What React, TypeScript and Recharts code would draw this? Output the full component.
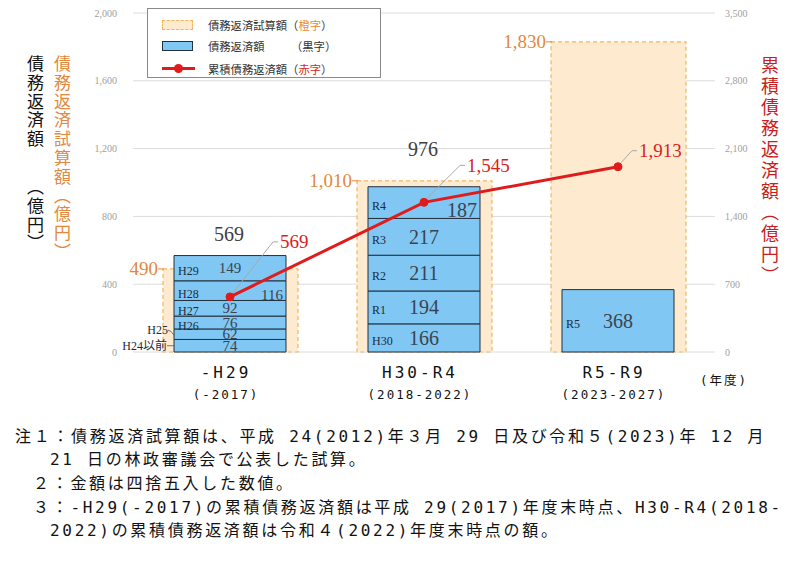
import React from 'react';
import { ComposedChart, Bar, Line, XAxis, YAxis, CartesianGrid, LabelList } from 'recharts';

// ---------- data ----------
const categories = ['-H29', 'H30-R4', 'R5-R9'];
const yearRanges = ['(-2017)', '(2018-2022)', '(2023-2027)'];
const trialAmounts = [490, 1010, 1830];
const seg1 = [74, 166, 368];
const seg2 = [62, 194, null];
const seg3 = [76, 211, null];
const seg4 = [92, 217, null];
const seg5 = [116, 187, null];
const seg6 = [149, null, null];
const segmentNames = [
  ['H24以前', 'H25', 'H26', 'H27', 'H28', 'H29'],
  ['H30', 'R1', 'R2', 'R3', 'R4'],
  ['R5'],
];
const repaymentTotals = [569, 976, null];
const cumulativeRepayment = [569, 1545, 1913];
const leftTicks = [0, 400, 800, 1200, 1600, 2000];
const rightTicks = [0, 700, 1400, 2100, 2800, 3500];

// ---------- styles ----------
const ORANGE = '#E3883C';
const RED = '#D91E1E';
const BLUE = '#80C7F3';
const BLUE_STROKE = '#22313F';
const SERIF = '"Liberation Serif", "DejaVu Serif", "Noto Sans CJK JP", serif';
const CJK = '"Noto Sans CJK JP", sans-serif';
const MONO_CJK = '"DejaVu Sans Mono", "Noto Sans CJK JP", monospace';

const segKeys = ['s1', 's2', 's3', 's4', 's5', 's6'];
const segArrays = [seg1, seg2, seg3, seg4, seg5, seg6];
const valueFontSize = [15, 20, 20];
const totalLabelDy = [-22, -38, 0];
const segStyle: Record<string, any> = {
  '0-0': { nameOutside: true },
  '0-1': { nameOutside: true, diag: true },
  '0-4': { valueAnchor: 'end', valueDy: 4 },
  '1-4': { valueAnchor: 'end', valueDy: 7 },
};
const leaderOffsets = [
  { dx: 43, dy: -55 },
  { dx: 36, dy: -37 },
  { dx: 14, dy: -16 },
];

const data = categories.map((c, i) => {
  const row: any = {
    category: c,
    range: yearRanges[i],
    trial: trialAmounts[i],
    cumulative: cumulativeRepayment[i],
  };
  segKeys.forEach((k, j) => {
    row[k] = segArrays[j][i];
  });
  return row;
});

const fmt = (n: number) => n.toLocaleString('en-US');

const lastSegIndex = (i: number) => {
  let last = -1;
  segArrays.forEach((arr, j) => {
    if (arr[i] != null) last = j;
  });
  return last;
};

const makeSegLabel = (j: number) => (props: any) => {
  const { x, y, width, height, index, value } = props;
  if (value == null || value === 0 || height == null) return null;
  const name = segmentNames[index] ? segmentNames[index][j] : '';
  const st = segStyle[`${index}-${j}`] || {};
  const cy = y + height / 2;
  const fs = valueFontSize[index];
  const out: any[] = [];
  if (st.nameOutside) {
    if (st.diag) {
      out.push(
        <text key="n" x={x - 6} y={cy - 4} textAnchor="end" dominantBaseline="central" fontSize={12} fontFamily={SERIF} fill="#1d2b3a">{name}</text>,
        <path key="l" d={`M${x - 6},${cy - 4} Q${x - 3},${cy - 4} ${x},${cy + 1}`} stroke="#555" fill="none" strokeWidth={0.8} />
      );
    } else {
      out.push(
        <text key="n" x={x - 7} y={cy} textAnchor="end" dominantBaseline="central" fontSize={12} fontFamily={SERIF} fill="#1d2b3a">{name}</text>,
        <line key="l" x1={x - 7} y1={cy} x2={x} y2={cy} stroke="#555" strokeWidth={0.8} />
      );
    }
  } else {
    out.push(
      <text key="n" x={x + 4} y={cy + 3} dominantBaseline="central" fontSize={12} fontFamily={SERIF} fill="#1d2b3a">{name}</text>
    );
  }
  const vx = st.valueAnchor === 'end' ? x + width - 3 : x + width / 2;
  out.push(
    <text key="v" x={vx} y={cy + (st.valueDy || 0)} textAnchor={st.valueAnchor === 'end' ? 'end' : 'middle'} dominantBaseline="central" fontSize={fs} fontFamily={SERIF} fill="#3a4450">{value}</text>
  );
  if (j === lastSegIndex(index) && repaymentTotals[index] != null) {
    out.push(
      <text key="t" x={x + width / 2 - 1} y={y + totalLabelDy[index]} textAnchor="middle" dominantBaseline="central" fontSize={20} fontFamily={SERIF} fill="#404040">{repaymentTotals[index]}</text>
    );
  }
  return <g>{out}</g>;
};

const TrialLabel = (props: any) => {
  const { x, y, value } = props;
  if (value == null) return null;
  return (
    <g>
      <text x={x - 5} y={y} textAnchor="end" dominantBaseline="central" fontSize={19} fontFamily={SERIF} fill={ORANGE}>{fmt(value)}</text>
      <line x1={x - 5} y1={y} x2={x + 1} y2={y} stroke={ORANGE} strokeWidth={1} />
    </g>
  );
};

const CumLabel = (props: any) => {
  const { x, y, value, index } = props;
  if (value == null) return null;
  const o = leaderOffsets[index] || { dx: 20, dy: -20 };
  const ex = x + o.dx;
  const ey = y + o.dy;
  return (
    <g>
      <polyline points={`${x + 3},${y - 4} ${ex},${ey} ${ex + 5},${ey}`} stroke="#a8a8a8" fill="none" strokeWidth={1} />
      <text x={ex + 7} y={ey} dominantBaseline="central" fontSize={19} fontFamily={SERIF} fill={RED}>{fmt(value)}</text>
    </g>
  );
};

const XTick = (props: any) => {
  const { x, y, payload, index } = props;
  return (
    <g>
      <text x={x - 4} y={y + 20} textAnchor="middle" dominantBaseline="central" fontSize={16} fontFamily={MONO_CJK} letterSpacing={3} fill="#111">{payload.value}</text>
      <text x={x - 4} y={y + 42} textAnchor="middle" dominantBaseline="central" fontSize={12.5} fontFamily={MONO_CJK} letterSpacing={2} fill="#111">{yearRanges[index] ?? ''}</text>
    </g>
  );
};

const vText = (left: number, top: number, text: string, color: string, fs: number, ls: number) => (
  <div
    style={{
      position: 'absolute',
      left,
      top,
      writingMode: 'vertical-rl',
      fontFamily: CJK,
      fontSize: fs,
      lineHeight: 1,
      letterSpacing: ls,
      color,
      whiteSpace: 'pre',
    }}
  >
    {text}
  </div>
);

const noteLines = [
  { left: 15, top: 427, text: '注１：債務返済試算額は、平成 24(2012)年３月 29 日及び令和５(2023)年 12 月' },
  { left: 50, top: 450, text: '21 日の林政審議会で公表した試算。' },
  { left: 33, top: 474, text: '２：金額は四捨五入した数値。' },
  { left: 33, top: 498, text: '３：-H29(-2017)の累積債務返済額は平成 29(2017)年度末時点、H30-R4(2018-' },
  { left: 50, top: 521, text: '2022)の累積債務返済額は令和４(2022)年度末時点の額。' },
];

export default function App() {
  return (
    <div style={{ position: 'absolute', left: 0, top: 0, width: 808, height: 561, background: '#fff', overflow: 'hidden' }}>
      <ComposedChart width={808} height={410} data={data} margin={{ top: 13, right: 0, bottom: 0, left: 0 }}>
        <CartesianGrid vertical={false} stroke="#dcdcdc" yAxisId="left" xAxisId="main" />
        <XAxis xAxisId="main" dataKey="category" height={58} axisLine={false} tickLine={false} tickSize={0} tickMargin={0} tick={<XTick />} interval={0} />
        <XAxis xAxisId="trial" dataKey="category" hide />
        <YAxis
          yAxisId="left"
          width={133}
          domain={[0, 2000]}
          ticks={leftTicks}
          axisLine={false}
          tickLine={false}
          tickSize={0}
          tickMargin={16}
          tickFormatter={fmt}
          tick={{ fill: '#a0a0a0', fontSize: 10, fontFamily: SERIF }}
        />
        <YAxis
          yAxisId="right"
          orientation="right"
          width={93}
          domain={[0, 3500]}
          ticks={rightTicks}
          axisLine={false}
          tickLine={false}
          tickSize={0}
          tickMargin={10}
          tickFormatter={fmt}
          tick={{ fill: '#a0a0a0', fontSize: 10, fontFamily: SERIF, textAnchor: 'start' }}
        />
        <Bar xAxisId="trial" yAxisId="left" dataKey="trial" barSize={135} fill="#FDEACF" stroke="#F2B75E" strokeDasharray="4 3" strokeWidth={1.2} isAnimationActive={false}>
          <LabelList dataKey="trial" content={TrialLabel} />
        </Bar>
        {segKeys.map((k, j) => (
          <Bar key={k} xAxisId="main" yAxisId="left" dataKey={k} stackId="repay" barSize={112} fill={BLUE} stroke={BLUE_STROKE} strokeWidth={1} isAnimationActive={false}>
            <LabelList dataKey={k} content={makeSegLabel(j)} />
          </Bar>
        ))}
        <Line
          xAxisId="main"
          yAxisId="right"
          dataKey="cumulative"
          stroke="#E01B1B"
          strokeWidth={3}
          dot={{ r: 4, fill: '#E01B1B', stroke: '#E01B1B', strokeWidth: 1 }}
          isAnimationActive={false}
        >
          <LabelList dataKey="cumulative" content={CumLabel} />
        </Line>
      </ComposedChart>

      {/* axis titles */}
      {vText(27, 55, '債務返済額　　（億円）', '#111', 17, 1.8)}
      {vText(54, 55, '債務返済試算額（億円）', ORANGE, 17, 1.8)}
      {vText(761, 56, '累積債務返済額（億円）', '#C81E1E', 18, 3)}

      {/* year unit */}
      <div style={{ position: 'absolute', left: 700, top: 370, fontFamily: MONO_CJK, fontSize: 12.5, letterSpacing: 2, color: '#111', whiteSpace: 'pre' }}>(年度)</div>

      {/* legend */}
      <div style={{ position: 'absolute', left: 147, top: 8, width: 234, height: 70, border: '1px solid #8a8a8a', boxSizing: 'border-box', background: '#fff' }} />
      <div style={{ position: 'absolute', left: 162, top: 20, width: 31, height: 10, boxSizing: 'border-box', background: '#FDEACF', border: '1px dashed #F2B75E' }} />
      <div style={{ position: 'absolute', left: 162, top: 41, width: 31, height: 10, boxSizing: 'border-box', background: BLUE, border: `1px solid ${BLUE_STROKE}` }} />
      <div style={{ position: 'absolute', left: 162, top: 67, width: 33, height: 3, background: '#E01B1B' }} />
      <div style={{ position: 'absolute', left: 174, top: 64, width: 9, height: 9, borderRadius: '50%', background: '#E01B1B' }} />
      <div style={{ position: 'absolute', left: 208, top: 17, fontFamily: CJK, fontSize: 11.3, color: '#333', whiteSpace: 'pre', lineHeight: '16px' }}>
        債務返済試算額（<span style={{ color: ORANGE }}>橙字</span>）
      </div>
      <div style={{ position: 'absolute', left: 208, top: 38, fontFamily: CJK, fontSize: 11.3, color: '#333', whiteSpace: 'pre', lineHeight: '16px' }}>債務返済額</div>
      <div style={{ position: 'absolute', left: 291, top: 38, fontFamily: CJK, fontSize: 11.3, color: '#333', whiteSpace: 'pre', lineHeight: '16px' }}>（黒字）</div>
      <div style={{ position: 'absolute', left: 208, top: 61, fontFamily: CJK, fontSize: 11.3, color: '#333', whiteSpace: 'pre', lineHeight: '16px' }}>
        累積債務返済額（<span style={{ color: RED }}>赤字</span>）
      </div>

      {/* notes */}
      {noteLines.map((l, i) => (
        <div key={i} style={{ position: 'absolute', left: l.left, top: l.top, fontFamily: MONO_CJK, fontSize: 16, letterSpacing: 2.7, lineHeight: '20px', color: '#111', whiteSpace: 'pre' }}>
          {l.text}
        </div>
      ))}
    </div>
  );
}
